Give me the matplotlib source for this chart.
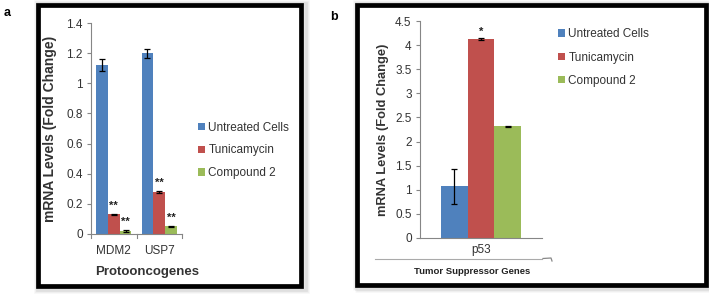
import numpy as np
import matplotlib
matplotlib.use('Agg')
import matplotlib.pyplot as plt
from matplotlib.patches import Rectangle
from matplotlib.lines import Line2D

plt.rcParams['font.family'] = ['Liberation Sans', 'DejaVu Sans']

series = ['Untreated Cells', 'Tunicamycin', 'Compound 2']
colors = ['#4F81BD', '#C0504D', '#9BBB59']

# panel a
genes_a = ['MDM2', 'USP7']
vals_a = [[1.12, 1.20], [0.13, 0.28], [0.02, 0.05]]
errs_a = [[0.04, 0.03], [0.006, 0.006], [0.008, 0.004]]
stars_a = [['', ''], ['**', '**'], ['**', '**']]

# panel b
genes_b = ['p53']
vals_b = [[1.07], [4.13], [2.32]]
errs_b = [[0.37], [0.015], [0.008]]
stars_b = [[''], ['*'], ['']]

W, H = 709, 301
fig = plt.figure(figsize=(W / 100, H / 100), dpi=100)

def fx(px):
    return px / W

def fy(py):
    return 1 - py / H

def frame(x0, y0, x1, y1, lw):
    # soft shadow then black frame
    for k, a in [(4, 0.06), (3, 0.08), (2, 0.12)]:
        fig.patches.append(Rectangle((fx(x0 - k + 2), fy(y1 + k + 1)), fx(x1 - x0 + 2 * k), (y1 - y0 + 2 * k) / H,
                                     transform=fig.transFigure, fill=False, ec='gray', lw=lw, alpha=a, zorder=0))
    fig.patches.append(Rectangle((fx(x0), fy(y1)), fx(x1 - x0), (y1 - y0) / H,
                                 transform=fig.transFigure, fill=False, ec='black', lw=lw, zorder=1))

frame(37.5, 5, 301, 285.5, 3.4)
frame(356.5, 5, 705.5, 284.5, 3.4)

fig.text(fx(4), fy(13), 'a', fontsize=9, fontweight='bold', va='center')
fig.text(fx(330), fy(17), 'b', fontsize=9, fontweight='bold', va='center')

axis_gray = '#868686'
txt = '#333333'

def style(ax, ymax, step):
    for s in ['top', 'right']:
        ax.spines[s].set_visible(False)
    for s in ['left', 'bottom']:
        ax.spines[s].set_color(axis_gray)
        ax.spines[s].set_linewidth(0.8)
    ticks = np.arange(0, ymax + step / 2, step)
    ax.set_ylim(0, ymax)
    ax.set_yticks(ticks)
    ax.set_yticklabels(['%g' % round(t, 2) for t in ticks])
    ax.tick_params(axis='y', colors=axis_gray, labelcolor=txt, labelsize=8.5, length=3, width=0.8, pad=3)
    ax.tick_params(axis='x', colors=axis_gray, labelcolor=txt, labelsize=8.5, length=0, pad=8)
    ax.patch.set_alpha(0)

def bars(ax, genes, vals, errs, stars, width, star_off):
    x = np.arange(len(genes))
    for i in range(3):
        pos = x + (i - 1) * width
        ax.bar(pos, vals[i], width, color=colors[i], label=series[i], zorder=2)
        ax.errorbar(pos, vals[i], yerr=errs[i], fmt='none', ecolor='black', elinewidth=0.9,
                    capsize=2.5, capthick=0.9, zorder=3)
        for p, v, e, s in zip(pos, vals[i], errs[i], stars[i]):
            if s:
                ax.text(p, v + e + star_off, s, ha='center', va='bottom', fontsize=8,
                        fontweight='bold', color='#222222')
    ax.set_xticks(x)
    ax.set_xticklabels(genes)
    ax.set_xlim(-0.5, len(genes) - 0.5)

# panel a
axa = fig.add_axes([fx(91), fy(234), fx(91), (234 - 23) / H])
bars(axa, genes_a, vals_a, errs_a, stars_a, 0.26, 0.02)
style(axa, 1.4, 0.2)
for xb in [-0.5, 0.5, 1.5]:
    axa.plot([xb, xb], [0, -0.02], color=axis_gray, lw=0.8, clip_on=False,
             transform=axa.get_xaxis_transform())
axa.set_ylabel('mRNA Levels (Fold Change)', fontsize=10, fontweight='bold', color=txt)
axa.yaxis.set_label_coords((57 - 91) / 91, 0.5)
fig.text(fx(147), fy(272), 'Protooncogenes', fontsize=9.5, fontweight='bold', color=txt,
         ha='center', va='center')
axa.legend(loc='center left', bbox_to_anchor=(fx(193), fy(150.5)), bbox_transform=fig.transFigure,
           frameon=False, fontsize=8.5, handlelength=0.6, handleheight=0.6, handletextpad=0.3,
           labelspacing=0.9, labelcolor=txt, borderaxespad=0)

# panel b
axb = fig.add_axes([fx(420), fy(238), fx(122), (238 - 21) / H])
bars(axb, genes_b, vals_b, errs_b, stars_b, 0.22, 0.03)
style(axb, 4.5, 0.5)
axb.tick_params(axis='x', pad=4)
axb.set_ylabel('mRNA Levels (Fold Change)', fontsize=9.3, fontweight='bold', color=txt)
axb.yaxis.set_label_coords((389 - 420) / 122, 0.5)
axb.legend(loc='center left', bbox_to_anchor=(fx(553), fy(57.5)), bbox_transform=fig.transFigure,
           frameon=False, fontsize=8.5, handlelength=0.6, handleheight=0.6, handletextpad=0.3,
           labelspacing=0.95, labelcolor=txt, borderaxespad=0)

# bracket line under p53 and category title
fig.add_artist(Line2D([fx(375), fx(542)], [fy(259), fy(259)], color='#aaaaaa', lw=0.8))
fig.add_artist(Line2D([fx(543), fx(551), fx(552)], [fy(258.5), fy(258), fy(261)], color='#888888', lw=0.9))
fig.text(fx(472), fy(272), 'Tumor Suppressor Genes', fontsize=6.8, fontweight='bold', color='#222222',
         ha='center', va='center')

fig.savefig('out.png', dpi=100)
